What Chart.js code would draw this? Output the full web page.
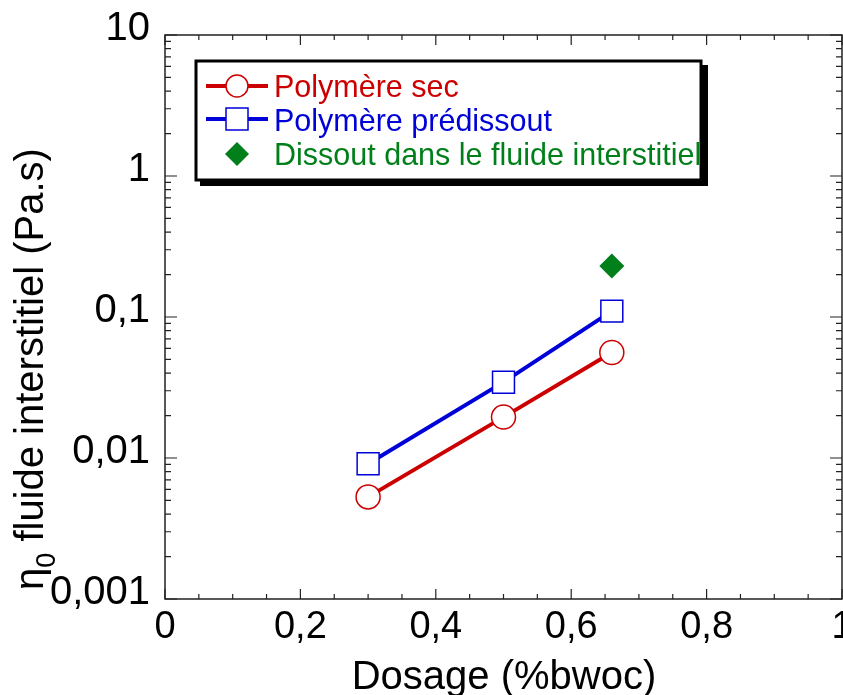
<!DOCTYPE html>
<html>
<head>
<meta charset="utf-8">
<script src="https://cdn.jsdelivr.net/npm/chart.js@4.4.1/dist/chart.umd.min.js"></script>
<style>
  html, body { margin: 0; padding: 0; background: #fff; }
  canvas { display: block; }
</style>
</head>
<body>
<canvas id="chart" width="843" height="695"></canvas>
<script>
// data
const dosage = [0.3, 0.5, 0.66]
const polymereSec = [0.0053, 0.0195, 0.056]
const polymerePredissout = [0.0091, 0.0345, 0.11]
const dissoutDosage = [0.66]
const dissoutFluide = [0.23]

const xTickValues = [0, 0.2, 0.4, 0.6, 0.8, 1]
const xTickLabels = ['0', '0,2', '0,4', '0,6', '0,8', '1']
const yTickValues = [0.001, 0.01, 0.1, 1, 10]
const yTickLabels = ['0,001', '0,01', '0,1', '1', '10']

const legendLabels = ['Polymère sec', 'Polymère prédissout', 'Dissout dans le fluide interstitiel']

const RED = '#cc0000'
const BLUE = '#0000d8'
const GREEN = '#007f1a'
const FONT = '"Liberation Sans", Arial, sans-serif'

const toPoints = (xs, ys) => xs.map((x, i) => ({ x, y: ys[i] }))

// frame with inward ticks on all four sides, plus x tick labels
// (drawn here so the last label can hang off the right edge like the original)
const framePlugin = {
  id: 'frame',
  afterDatasetsDraw(chart) {
    const { ctx, chartArea: a, scales: { x, y } } = chart
    ctx.save()
    ctx.strokeStyle = '#222'
    ctx.lineWidth = 1.5
    ctx.strokeRect(a.left, a.top, a.right - a.left, a.bottom - a.top)
    ctx.lineWidth = 1.2
    ctx.beginPath()
    for (let i = 0; i <= 20; i++) {
      const px = x.getPixelForValue(i * 0.05)
      const len = i % 4 === 0 ? 10 : 5
      ctx.moveTo(px, a.bottom); ctx.lineTo(px, a.bottom - len)
      ctx.moveTo(px, a.top); ctx.lineTo(px, a.top + len)
    }
    for (let d = -3; d <= 0; d++) {
      for (let m = 1; m <= 10; m++) {
        const py = y.getPixelForValue(m * Math.pow(10, d))
        const len = (m === 1 || m === 10) ? 12 : 6
        ctx.moveTo(a.left, py); ctx.lineTo(a.left + len, py)
        ctx.moveTo(a.right, py); ctx.lineTo(a.right - len, py)
      }
    }
    ctx.stroke()

    ctx.fillStyle = '#000'
    ctx.font = '38px ' + FONT
    ctx.textAlign = 'center'
    ctx.textBaseline = 'alphabetic'
    xTickValues.forEach((v, i) => {
      ctx.fillText(xTickLabels[i], x.getPixelForValue(v), a.bottom + 39)
    })
    ctx.restore()
  }
}

// boxed legend with drop shadow, inside the plot
const legendPlugin = {
  id: 'boxLegend',
  afterDraw(chart) {
    const ctx = chart.ctx
    ctx.save()
    ctx.fillStyle = '#000'
    ctx.fillRect(200, 65, 508, 121)
    ctx.fillStyle = '#fff'
    ctx.fillRect(196, 61, 505, 119)
    ctx.strokeStyle = '#000'
    ctx.lineWidth = 3
    ctx.strokeRect(196, 61, 505, 119)

    const rows = [86, 119, 154]
    const baselines = [97, 131, 165]
    const colors = [RED, BLUE, GREEN]
    ctx.lineWidth = 4
    ;[0, 1].forEach(i => {
      ctx.strokeStyle = colors[i]
      ctx.beginPath()
      ctx.moveTo(206, rows[i]); ctx.lineTo(268, rows[i])
      ctx.stroke()
    })
    ctx.lineWidth = 1.5
    ctx.fillStyle = '#fff'
    ctx.strokeStyle = RED
    ctx.beginPath(); ctx.arc(237, rows[0], 11, 0, Math.PI * 2); ctx.fill(); ctx.stroke()
    ctx.strokeStyle = BLUE
    ctx.fillRect(226, rows[1] - 11, 22, 22); ctx.strokeRect(226, rows[1] - 11, 22, 22)
    ctx.fillStyle = GREEN
    ctx.beginPath()
    ctx.moveTo(237, rows[2] - 12); ctx.lineTo(249, rows[2]); ctx.lineTo(237, rows[2] + 12); ctx.lineTo(225, rows[2])
    ctx.closePath(); ctx.fill()

    ctx.font = '30.5px ' + FONT
    ctx.textBaseline = 'alphabetic'
    ctx.textAlign = 'left'
    legendLabels.forEach((t, i) => {
      ctx.fillStyle = colors[i]
      ctx.fillText(t, 274, baselines[i])
    })
    ctx.restore()
  }
}

// rotated y title with subscript, and x title
const titlesPlugin = {
  id: 'titles',
  afterDraw(chart) {
    const ctx = chart.ctx
    ctx.save()
    ctx.fillStyle = '#000'
    ctx.textBaseline = 'alphabetic'
    ctx.font = '40px ' + FONT
    ctx.textAlign = 'center'
    ctx.fillText('Dosage (%bwoc)', 504, 689)

    ctx.textAlign = 'left'
    ctx.translate(43, 590)
    ctx.rotate(-Math.PI / 2)
    ctx.fillText('η', 0, 0)
    let w = ctx.measureText('η').width
    ctx.font = '27px ' + FONT
    ctx.fillText('0', w, 12)
    w += ctx.measureText('0').width
    ctx.font = '40px ' + FONT
    ctx.fillText(' fluide interstitiel (Pa.s)', w, 0)
    ctx.restore()
  }
}

new Chart(document.getElementById('chart'), {
  type: 'scatter',
  data: {
    datasets: [
      {
        label: legendLabels[0],
        data: toPoints(dosage, polymereSec),
        showLine: true,
        borderColor: RED,
        borderWidth: 4,
        pointStyle: 'circle',
        pointRadius: 12,
        pointBorderWidth: 1.5,
        pointBorderColor: RED,
        pointBackgroundColor: '#fff'
      },
      {
        label: legendLabels[1],
        data: toPoints(dosage, polymerePredissout),
        showLine: true,
        borderColor: BLUE,
        borderWidth: 4,
        pointStyle: 'rect',
        pointRadius: 15.5,
        pointBorderWidth: 1.5,
        pointBorderColor: BLUE,
        pointBackgroundColor: '#fff'
      },
      {
        label: legendLabels[2],
        data: toPoints(dissoutDosage, dissoutFluide),
        showLine: false,
        pointStyle: 'rectRot',
        pointRadius: 12.5,
        pointBorderWidth: 0,
        pointBackgroundColor: GREEN,
        pointBorderColor: GREEN
      }
    ]
  },
  options: {
    responsive: false,
    animation: false,
    clip: false,
    layout: { autoPadding: false, padding: { top: 35, right: 1, left: 0, bottom: 0 } },
    plugins: {
      legend: { display: false },
      tooltip: { enabled: false }
    },
    scales: {
      x: {
        type: 'linear',
        min: 0,
        max: 1,
        grid: { display: false, drawTicks: false },
        border: { display: false },
        afterBuildTicks: s => { s.ticks = xTickValues.map(v => ({ value: v })) },
        afterFit: s => { s.height = 96; s.paddingLeft = 0; s.paddingRight = 0 },
        ticks: { display: false }
      },
      y: {
        type: 'logarithmic',
        min: 0.001,
        max: 10,
        grid: { display: false, drawTicks: false },
        border: { display: false },
        afterBuildTicks: s => { s.ticks = yTickValues.map(v => ({ value: v })) },
        afterFit: s => { s.width = 165; s.paddingTop = 0; s.paddingBottom = 0 },
        ticks: {
          color: '#000',
          font: { family: FONT, size: 40 },
          padding: 15,
          labelOffset: -6,
          autoSkip: false,
          callback: (v, i) => yTickLabels[i]
        }
      }
    }
  },
  plugins: [framePlugin, legendPlugin, titlesPlugin]
})
</script>
</body>
</html>
